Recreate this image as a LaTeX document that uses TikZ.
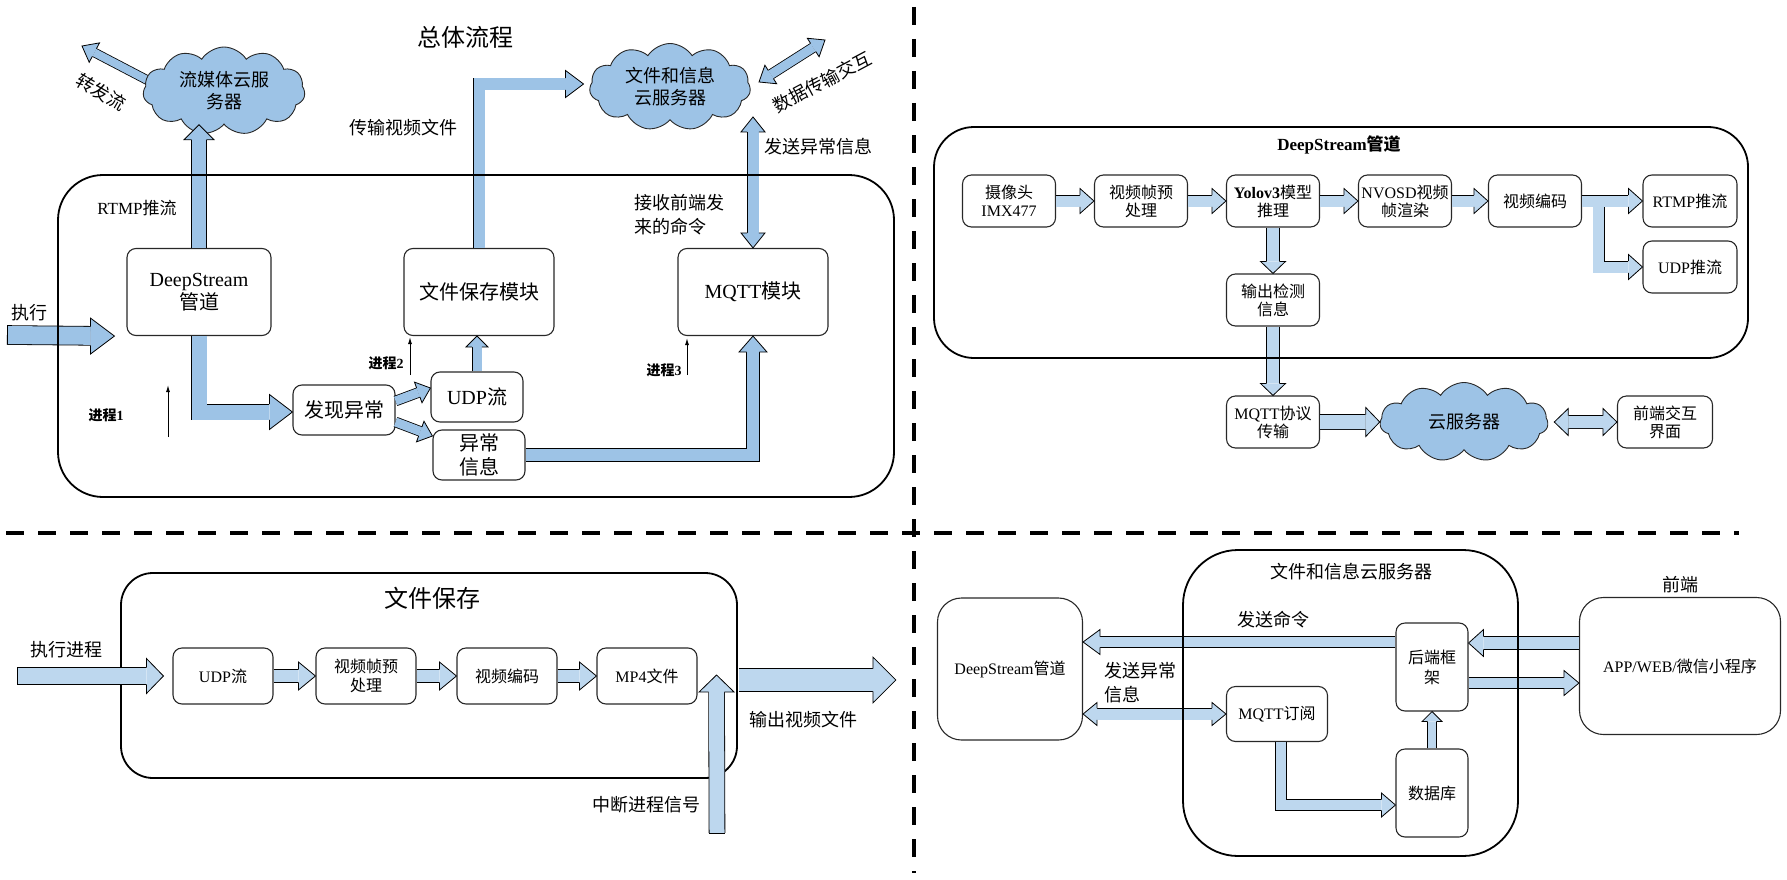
\documentclass[tikz,border=0pt]{standalone}
\usepackage{fontspec}
\setmainfont{Noto Sans CJK SC}
\newfontfamily\en{Liberation Serif}
\usetikzlibrary{positioning, calc, arrows.meta, shapes.symbols}

\definecolor{cloudblue}{RGB}{157,195,230}
\definecolor{flowdark}{RGB}{157,195,230}
\definecolor{flowlight}{RGB}{189,215,238}
\definecolor{edge}{RGB}{40,40,40}
\colorlet{arrowfill}{flowlight}

\tikzset{
  box/.style={draw=edge, line width=1.1pt, rounded corners=9pt, fill=white, align=center, inner sep=1pt},
  panel/.style={draw=black, line width=1.8pt, rounded corners=#1, inner sep=0pt},
  cloudy/.style={cloud, cloud puffs=11, cloud puff arc=115, cloud ignores aspect, draw=edge, line width=0.9pt, fill=cloudblue, inner sep=0pt},
  cloudtxt/.style={align=center, inner sep=0pt, font=\fontsize{18}{22}\selectfont},
  flow/.style={draw=black, line width=0.8pt, double=arrowfill, double distance=#1pt, line join=miter},
  pics/fathead/.style n args={3}{code={
    \path[fill=arrowfill, draw=black, line width=0.8pt, line join=miter] (-#1,#3) -- (-#1,#2) -- (0,0) -- (-#1,-#2) -- (-#1,-#3);
  }},
  cue/.style={line width=1pt, -{Latex[length=7pt,width=4pt]}},
  divider/.style={line width=4.5pt, dash pattern=on 18pt off 14pt},
  ttl/.style={inner sep=0pt, font=\fontsize{24}{28}\selectfont},
  lbl/.style={inner sep=0pt, font=\fontsize{18}{24}\selectfont},
  proc/.style={inner sep=0pt, font=\fontsize{14}{16}\selectfont\bfseries},
  bigbox/.style={box, minimum width=144pt, minimum height=87pt, font=\fontsize{20}{23}\selectfont},
  midbox/.style={box, minimum width=92pt, minimum height=50pt, font=\fontsize{20}{24}\selectfont},
  stage/.style={box, minimum width=93pt, minimum height=52pt, font=\fontsize{16}{18}\selectfont},
  stageC/.style={box, minimum width=100pt, minimum height=56pt, font=\fontsize{16}{19}\selectfont},
}

\begin{document}
\begin{tikzpicture}[x=1pt, y=-1pt]
\useasboundingbox (0,0) rectangle (1787,880);

% dividers
\draw[divider] (914,7) -- (914,873);
\draw[divider] (6,533) -- (1739,533);

% ---------- overall flow ----------
\begin{scope}
\colorlet{arrowfill}{flowdark}
\coordinate (fwdA) at (149,81);
\coordinate (fwdTipA) at (82,46);
\draw[flow=8] (fwdA) -- ($(fwdTipA)!14pt!(fwdA)$);
\pic[rotate=152] at (fwdTipA) {fathead={14}{11}{4.4}};

\node[cloudy, minimum width=162pt, minimum height=88pt] (cloudA) at (224,91) {};
\node[cloudtxt] (cloudAtxt) at (cloudA) {流媒体云服\\务器};
\node[cloudy, minimum width=161pt, minimum height=87pt] (cloudB) at (670,87) {};
\node[cloudtxt] (cloudBtxt) at (cloudB) {文件和信息\\云服务器};

\node[bigbox] (dsA) at (199,292) {{\en DeepStream}\\管道};
\node[bigbox, minimum width=150pt] (saveA) at (479,292) {文件保存模块};
\node[bigbox, minimum width=150pt] (mqttA) at (753,292) {{\en MQTT}模块};
\node[midbox, minimum width=102pt] (findA) at (344,410) {发现异常};
\node[midbox] (udpA) at (477,397) {{\en UDP}流};
\node[midbox] (infoA) at (479,455) {异常\\信息};

% run
\coordinate (runA) at (7,335);
\coordinate (runTipA) at ($(dsA.south west)+(-12,0)$);
\draw[flow=18] (runA) -- ($(runTipA)!24pt!(runA)$);
\pic at (runTipA) {fathead={24}{18}{9.4}};
\draw[line width=0.8pt] ($(runA)+(0,-9.4)$) -- ($(runA)+(0,9.4)$);
% rtmp to cloud
\draw[flow=14] (dsA.north) -- ($(dsA.north |- cloudA.south)+(0,15)$);
\pic[rotate=90] at (dsA.north |- cloudA.south) {fathead={15}{15}{7.4}};
% anomaly
\draw[flow=15] (dsA.south) |- ($(findA.west)+(-23,2)$);
\pic at ($(findA.west)+(0,2)$) {fathead={23}{17.5}{7.9}};
\draw[flow=9] ($(findA.east)+(0,-9)$) -- ($($(udpA.west)+(0,-9)$)!13pt!($(findA.east)+(0,-9)$)$);
\pic[rotate=20] at ($(udpA.west)+(0,-9)$) {fathead={13}{11}{4.9}};
\draw[flow=9] ($(findA.east)+(0,12)$) -- ($($(infoA.west)+(0,-19)$)!13pt!($(findA.east)+(0,12)$)$);
\pic[rotate=-20] at ($(infoA.west)+(0,-19)$) {fathead={13}{11}{4.9}};
\draw[flow=9] (udpA.north) -- ($(udpA.north |- saveA.south)+(0,11)$);
\pic[rotate=90] at (udpA.north |- saveA.south) {fathead={11}{11}{4.9}};
% file upload
\coordinate (saveTipA) at ($(cloudB.west)+(-6,-3)$);
\draw[flow=11] (saveA.north) |- ($(saveTipA)+(-18,0)$);
\pic at (saveTipA) {fathead={18}{13.5}{5.9}};
% mqtt link
\coordinate (upTipA) at ($(mqttA.north)+(0,-131)$);
\draw[flow=11] ($(upTipA)+(0,15)$) -- ($(mqttA.north)+(0,-15)$);
\pic[rotate=90] at (upTipA) {fathead={15}{12}{5.9}};
\pic[rotate=-90] at (mqttA.north) {fathead={15}{12}{5.9}};
\draw[flow=12] (infoA.east) -| ($(mqttA.south)+(0,16)$);
\pic[rotate=90] at (mqttA.south) {fathead={16}{14}{6.4}};
% data exchange
\coordinate (ioA) at (759,82);
\coordinate (ioB) at (825,40);
\draw[flow=9] ($(ioA)!14pt!(ioB)$) -- ($(ioB)!14pt!(ioA)$);
\pic[rotate=32.5] at (ioB) {fathead={14}{11}{4.9}};
\pic[rotate=212.5] at (ioA) {fathead={14}{11}{4.9}};

\node[panel=45pt, minimum width=836pt, minimum height=322pt] (frameA) at (476,336) {};

% process cues
\coordinate (p1s) at (168,437); \coordinate (p1e) at (168,385);
\coordinate (p2s) at (410,375); \coordinate (p2e) at (410,337);
\coordinate (p3s) at (687,375); \coordinate (p3e) at (687,338);
\draw[cue] (p1s) -- (p1e);
\draw[cue] (p2s) -- (p2e);
\draw[cue] (p3s) -- (p3e);

\node[ttl] (titleA) at (465,37) {总体流程};
\node[lbl] (runLblA) at (30,313) {执行};
\node[lbl, rotate=-30] (fwdLblA) at (101,92) {转发流};
\node[inner sep=0pt, font=\fontsize{17}{20}\selectfont] (rtmpLblA) at (137,208) {{\en RTMP}推流};
\node[lbl] (sendLblA) at (403,128) {传输视频文件};
\node[lbl, rotate=28] (ioLblA) at (822,82) {数据传输交互};
\node[lbl] (warnLblA) at (818,147) {发送异常信息};
\node[lbl, align=left, anchor=west] (cmdLblA) at (634,215) {接收前端发\\来的命令};
\node[proc] (p1Lbl) at (106,415) {进程{\en 1}};
\node[proc] (p2Lbl) at (386,363) {进程{\en 2}};
\node[proc] (p3Lbl) at (664,370) {进程{\en 3}};
\end{scope}

% ---------- DeepStream pipeline ----------
\node[stage] (camB) at (1009,201) {摄像头\\{\en IMX477}};
\node[stage] (preB) at (1141,201) {视频帧预\\处理};
\node[stage] (yoloB) at (1273,201) {{\en\bfseries Yolov3}模型\\推理};
\node[stage] (osdB) at (1405,201) {{\en NVOSD}视频\\帧渲染};
\node[stage] (encB) at (1535,201) {视频编码};
\node[stage, minimum width=94pt] (rtmpB) at (1690,201) {{\en RTMP}推流};
\node[stage, minimum width=94pt] (udpB) at (1690,267) {{\en UDP}推流};
\node[stage] (outB) at (1273,300) {输出检测\\信息};
\node[stage] (mqttB) at (1273,422) {{\en MQTT}协议\\传输};
\node[cloudy, minimum width=168pt, minimum height=79pt] (cloudC) at (1464,422) {};
\node[cloudtxt] (cloudCtxt) at (cloudC) {云服务器};
\node[stage, minimum width=95pt] (uiB) at (1665,422) {前端交互\\界面};

\draw[flow=11] (camB.east) -- ($(preB.west)+(-14,0)$);
\pic at (preB.west) {fathead={14}{12.5}{5.9}};
\draw[flow=11] (preB.east) -- ($(yoloB.west)+(-14,0)$);
\pic at (yoloB.west) {fathead={14}{12.5}{5.9}};
\draw[flow=11] (yoloB.east) -- ($(osdB.west)+(-14,0)$);
\pic at (osdB.west) {fathead={14}{12.5}{5.9}};
\draw[flow=11] (osdB.east) -- ($(encB.west)+(-14,0)$);
\pic at (encB.west) {fathead={14}{12.5}{5.9}};
\draw[flow=11] (encB.east) -- ($(rtmpB.west)+(-14,0)$);
\pic at (rtmpB.west) {fathead={14}{12.5}{5.9}};
\draw[flow=11] ($(encB.east)!0.28!(rtmpB.west)+(0,6)$) |- ($(udpB.west)+(-14,0)$);
\pic at (udpB.west) {fathead={14}{12.5}{5.9}};
\draw[line width=11pt, arrowfill] ($(encB.east)!0.28!(rtmpB.west)+(0,3)$) -- ++(0,6);
\draw[flow=12] (yoloB.south) -- ($(outB.north)+(0,-12)$);
\pic[rotate=-90] at (outB.north) {fathead={12}{12.5}{6.4}};
\draw[flow=12] (outB.south) -- ($(mqttB.north)+(0,-12)$);
\pic[rotate=-90] at (mqttB.north) {fathead={12}{12.5}{6.4}};
\draw[flow=14] (mqttB.east) -- ($(cloudC.west)+(-14,0)$);
\pic at (cloudC.west) {fathead={14}{14.5}{7.4}};
\coordinate (cloudTipC) at ($(cloudC.east)+(6,0)$);
\draw[flow=12] ($(cloudTipC)+(14,0)$) -- ($(uiB.west)+(-14,0)$);
\pic[rotate=180] at (cloudTipC) {fathead={14}{13.5}{6.4}};
\pic at (uiB.west) {fathead={14}{13.5}{6.4}};

\node[panel=40pt, minimum width=814pt, minimum height=231pt] (frameB) at (1341,242.5) {};
\node[inner sep=0pt, font=\fontsize{17}{20}\selectfont\bfseries] (titleB) at (1339,145) {{\en DeepStream}管道};

% ---------- file saving ----------
\node[panel=32pt, minimum width=616pt, minimum height=205pt] (frameC) at (429,675.5) {};
\node[ttl] (titleC) at (432,598) {文件保存};
\node[stageC] (udpC) at (223,676) {{\en UDP}流};
\node[stageC] (preC) at (366,676) {视频帧预\\处理};
\node[stageC] (encC) at (507,676) {视频编码};
\node[stageC] (mp4C) at (647,676) {{\en MP4}文件};

\coordinate (runC) at (17,676);
\coordinate (runTipC) at ($(udpC.west)+(-9,0)$);
\draw[flow=16] (runC) -- ($(runTipC)+(-17,0)$);
\pic at (runTipC) {fathead={17}{17.5}{8.4}};
\draw[line width=0.8pt] ($(runC)+(0,-8.4)$) -- ($(runC)+(0,8.4)$);
\draw[flow=12] (udpC.east) -- ($(preC.west)+(-17,0)$);
\pic at (preC.west) {fathead={17}{14}{6.4}};
\draw[flow=12] (preC.east) -- ($(encC.west)+(-17,0)$);
\pic at (encC.west) {fathead={17}{14}{6.4}};
\draw[flow=12] (encC.east) -- ($(mp4C.west)+(-17,0)$);
\pic at (mp4C.west) {fathead={17}{14}{6.4}};
\coordinate (outTipC) at ($(frameC.east)+(158,4.5)$);
\draw[flow=22] ($(frameC.east)+(0.8,4.5)$) -- ($(outTipC)+(-23,0)$);
\pic at (outTipC) {fathead={23}{23}{11.4}};
\coordinate (stopC) at (717,833);
\coordinate (stopTipC) at ($(mp4C.east)+(19,-1)$);
\draw[flow=15] (stopC) -- ($(stopTipC)+(0,17)$);
\pic[rotate=90] at (stopTipC) {fathead={17}{17.5}{7.9}};
\draw[line width=0.8pt] ($(stopC)+(-7.9,0)$) -- ($(stopC)+(7.9,0)$);

\node[lbl] (runLblC) at (66,650) {执行进程};
\node[lbl] (outLblC) at (803,720) {输出视频文件};
\node[lbl] (stopLblC) at (646,805) {中断进程信号};

% ---------- cloud server ----------
\node[box, rounded corners=24pt, minimum width=145pt, minimum height=142pt, font=\fontsize{16}{19}\selectfont] (dsD) at (1010,669) {{\en DeepStream}管道};
\node[box, rounded corners=24pt, minimum width=201pt, minimum height=137pt, font=\fontsize{16}{19}\selectfont] (appD) at (1680,666) {{\en APP/WEB/}微信小程序};
\node[box, minimum width=72pt, minimum height=88pt, font=\fontsize{16}{20}\selectfont] (backD) at (1432,667) {后端框\\架};
\node[box, minimum width=101pt, minimum height=55pt, font=\fontsize{16}{19}\selectfont] (mqttD) at (1277,714) {{\en MQTT}订阅};
\node[box, minimum width=72pt, minimum height=88pt, font=\fontsize{16}{19}\selectfont] (dbD) at (1432,793) {数据库};

\draw[flow=10] ($(backD.west)+(0,-25)$) -- ($(dsD.east)+(17,-27)$);
\pic[rotate=180] at ($(dsD.east)+(0,-27)$) {fathead={17}{12.5}{5.4}};
\draw[flow=12] ($(appD.west)+(0,-23)$) -- ($(backD.east)+(15,-24)$);
\pic[rotate=180] at ($(backD.east)+(0,-24)$) {fathead={15}{13.5}{6.4}};
\draw[flow=10] ($(backD.east)+(0,16)$) -- ($(appD.west)+(-15,17)$);
\pic at ($(appD.west)+(0,17)$) {fathead={15}{12.5}{5.4}};
\coordinate (dsTipD) at ($(dsD.east)+(0,45)$);
\draw[flow=11] ($(dsTipD)+(14,0)$) -- ($(mqttD.west)+(-14,0)$);
\pic[rotate=180] at (dsTipD) {fathead={14}{11.5}{5.9}};
\pic at (mqttD.west) {fathead={14}{11.5}{5.9}};
\draw[flow=10] ($(mqttD.south)+(4,0)$) |- ($(dbD.west)+(-14,12)$);
\pic at ($(dbD.west)+(0,12)$) {fathead={14}{12}{5.4}};
\draw[flow=8] (dbD.north) -- ($(backD.south)+(0,10)$);
\pic[rotate=90] at (backD.south) {fathead={10}{10}{4.4}};

\node[panel=55pt, minimum width=335pt, minimum height=306pt] (frameD) at (1350.5,703) {};
\node[lbl] (titleD) at (1351,572) {文件和信息云服务器};
\node[lbl] (frontD) at (1680,585) {前端};
\node[lbl] (cmdLblD) at (1273,620) {发送命令};
\node[lbl, align=left, anchor=west] (warnLblD) at (1104,683) {发送异常\\信息};
\end{tikzpicture}
\end{document}
